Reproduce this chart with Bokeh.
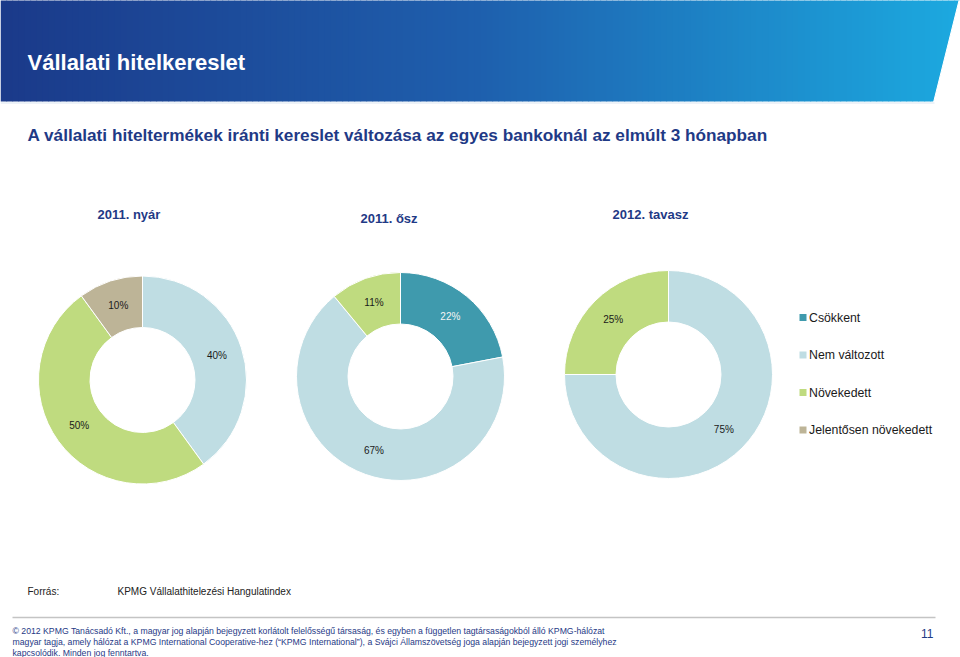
import numpy as np
from bokeh.plotting import figure
from bokeh.models import Range1d
from bokeh.core.properties import value
from bokeh.embed import file_html
from bokeh.resources import INLINE

# ---------------- data ----------------
periods = ["2011. nyár", "2011. ősz", "2012. tavasz"]
categories = ["Csökkent", "Nem változott", "Növekedett", "Jelentősen növekedett"]
csokkent = [0, 22, 0]
nem_valtozott = [40, 67, 75]
novekedett = [50, 11, 25]
jelentosen = [10, 0, 0]
series = [csokkent, nem_valtozott, novekedett, jelentosen]
colors = ["#3f9aad", "#bfdde3", "#bfdb7f", "#bdb497"]
label_colors = ["#f4f4f4", "#1a1a1a", "#1a1a1a", "#1a1a1a"]

FONT = value("Liberation Sans")
NAVY = "#1f3a86"

W, H = 960, 657
p = figure(width=W, height=H, x_range=Range1d(0, 960), y_range=Range1d(0, 657),
           toolbar_location=None, output_backend="svg", min_border=0,
           x_axis_location=None, y_axis_location=None)
p.grid.visible = False
p.outline_line_color = None
p.background_fill_color = "white"

def Y(ref_y):
    return 657 - ref_y

# ---------------- header banner (gradient) ----------------
edges = np.linspace(0, 960, 161)
stops_t = [0.0, 0.5, 1.0]
stops_c = [(27, 58, 138), (31, 96, 174), (28, 170, 224)]
mids = (edges[:-1] + edges[1:]) / 2 / 960
cols = []
for t in mids:
    r = np.interp(t, stops_t, [c[0] for c in stops_c])
    g = np.interp(t, stops_t, [c[1] for c in stops_c])
    b = np.interp(t, stops_t, [c[2] for c in stops_c])
    cols.append("#%02x%02x%02x" % (int(r), int(g), int(b)))
p.quad(left=edges[:-1], right=edges[1:] + 0.6, top=Y(0) + 2, bottom=Y(101),
       fill_color=cols, line_color=None)
p.patch(x=[959, 975, 975, 933], y=[Y(-2), Y(-2), Y(102), Y(102)],
        fill_color="white", line_color="white", line_width=1)
p.line(x=[0, 934], y=[Y(102.5), Y(102.5)], line_color="#dbe6f1", line_width=1)

p.text(x=[27], y=[Y(62)], text=["Vállalati hitelkereslet"], text_color="white",
       text_font=FONT, text_font_style="bold", text_font_size="22px",
       text_baseline="middle", text_align="left")

p.text(x=[27], y=[Y(134)],
       text=["A vállalati hiteltermékek iránti kereslet változása az egyes bankoknál az elmúlt 3 hónapban"],
       text_color=NAVY, text_font=FONT, text_font_style="bold", text_font_size="17.2px",
       text_baseline="middle", text_align="left")

# ---------------- donuts ----------------
centers = [(142, 379.5), (400, 376), (668, 374)]
title_pos = [(97, 214), (360, 218), (612, 214)]
R_OUT, R_IN = 104, 52.5

for i, period in enumerate(periods):
    cx, cy = centers[i]
    cyd = Y(cy)
    vals = [s[i] for s in series]
    total = float(sum(vals))
    cum = 0.0
    for k, v in enumerate(vals):
        if v <= 0:
            continue
        f0 = cum / total
        f1 = (cum + v) / total
        cum += v
        a0 = np.pi / 2 - f0 * 2 * np.pi
        a1 = np.pi / 2 - f1 * 2 * np.pi
        p.annular_wedge(x=[cx], y=[cyd], inner_radius=R_IN, outer_radius=R_OUT,
                        start_angle=[a0], end_angle=[a1], direction="clock",
                        fill_color=colors[k], line_color="white", line_width=1)
        am = (a0 + a1) / 2
        rm = (R_IN + R_OUT) / 2
        p.text(x=[cx + rm * np.cos(am)], y=[cyd + rm * np.sin(am)],
               text=["%d%%" % v], text_color=label_colors[k], text_font=FONT,
               text_font_size="10px", text_align="center", text_baseline="middle")
    tx, ty = title_pos[i]
    p.text(x=[tx], y=[Y(ty)], text=[period], text_color=NAVY, text_font=FONT,
           text_font_style="bold", text_font_size="13px",
           text_align="left", text_baseline="middle")

# ---------------- legend ----------------
leg_y = [317, 354.5, 392, 429.5]
p.scatter(x=[802.5] * 4, y=[Y(v) for v in leg_y], marker="square", size=7,
          fill_color=colors, line_color=None)
p.text(x=[808.5] * 4, y=[Y(v) for v in leg_y], text=categories, text_color="#1a1a1a",
       text_font=FONT, text_font_size="12.3px", text_align="left", text_baseline="middle")

# ---------------- footer ----------------
p.text(x=[27], y=[Y(591)], text=["Forrás:"], text_color="#222222", text_font=FONT,
       text_font_size="10px", text_align="left", text_baseline="middle")
p.text(x=[117], y=[Y(591)], text=["KPMG Vállalathitelezési Hangulatindex"],
       text_color="#222222", text_font=FONT, text_font_size="10px",
       text_align="left", text_baseline="middle")
p.line(x=[12, 935], y=[Y(617), Y(617)], line_color="#c4c4c4", line_width=1.5)

foot_lines = [
    "© 2012 KPMG Tanácsadó Kft., a magyar jog alapján bejegyzett korlátolt felelősségű társaság, és egyben a független tagtársaságokból álló KPMG-hálózat",
    "magyar tagja, amely hálózat a KPMG International Cooperative-hez (“KPMG International”), a Svájci Államszövetség joga alapján bejegyzett jogi személyhez",
    "kapcsolódik. Minden jog fenntartva.",
]
p.text(x=[12] * 3, y=[Y(630.5), Y(641.5), Y(652)], text=foot_lines, text_color=NAVY,
       text_font=FONT, text_font_size="8.7px", text_align="left", text_baseline="middle")
p.text(x=[933], y=[Y(633)], text=["11"], text_color=NAVY, text_font=FONT,
       text_font_size="12px", text_align="right", text_baseline="middle")

open("out.html", "w").write(file_html(p, INLINE))
